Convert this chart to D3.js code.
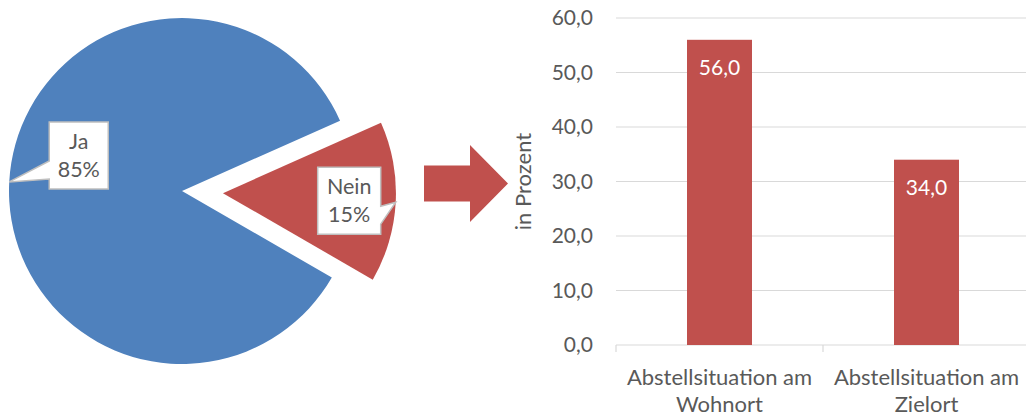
<!DOCTYPE html>
<html>
<head>
<meta charset="utf-8">
<script src="https://cdn.jsdelivr.net/npm/d3@7"></script>
<style>
  html, body { margin: 0; padding: 0; background: #fff; }
  svg { display: block; font-family: Lato, "Open Sans", sans-serif; }
</style>
</head>
<body>
<svg id="chart" width="1026" height="418"></svg>
<script>
// Pie: share answering yes / no
const pieLabels = ["Ja", "Nein"];
const pieValues = [85, 15];
const pieColors = ["#4F81BD", "#C0504D"];

// Bars: percentages by parking situation
const barCategories = [["Abstellsituation am", "Wohnort"], ["Abstellsituation am", "Zielort"]];
const barValues = [56.0, 34.0];
const yTicks = [0, 10, 20, 30, 40, 50, 60];
const yTitle = "in Prozent";

const textColor = "#595959";
const gridColor = "#D9D9D9";
const locale = d3.formatLocale({ decimal: ",", thousands: ".", grouping: [3], currency: ["", " €"] });
const fmt1 = locale.format(".1f");

const svg = d3.select("#chart");

// ---------- Pie with exploded "Nein" slice ----------
const deg = Math.PI / 180;
const pieCx = 182, pieCy = 191, radius = 173, explode = 41;
const pie = d3.pie().sort(null).startAngle(120 * deg).endAngle(480 * deg);
const arcs = pie(pieValues);
const arc = d3.arc().innerRadius(0).outerRadius(radius);

const pieG = svg.append("g").attr("transform", `translate(${pieCx},${pieCy})`);
const offset = (d, i) => {
  if (i !== 1) return [0, 0];
  const m = (d.startAngle + d.endAngle) / 2;
  return [Math.sin(m) * explode, -Math.cos(m) * explode];
};
pieG.selectAll("path.slice")
  .data(arcs)
  .join("path")
  .attr("class", "slice")
  .attr("d", arc)
  .attr("fill", (d, i) => pieColors[i])
  .attr("transform", (d, i) => `translate(${offset(d, i)})`);

// Callout labels: pointer tip sits on the outer edge at the slice's mid angle
const boxH = 67;
const callouts = [
  { dx: 40, dy: -60, side: "left", w: 59 },   // box placed right of the tip
  { dx: -78, dy: -35, side: "right", w: 63 }  // box placed left of the tip
];
arcs.forEach((d, i) => {
  const m = (d.startAngle + d.endAngle) / 2;
  const [ox, oy] = offset(d, i);
  const tx = ox + Math.sin(m) * radius;
  const ty = oy - Math.cos(m) * radius;
  const c = callouts[i];
  const x0 = tx + c.dx, y0 = ty + c.dy, x1 = x0 + c.w, y1 = y0 + boxH;
  const b1 = y0 + 39, b2 = y0 + 57;
  let p;
  if (c.side === "left") {
    p = `M${x0},${y0}H${x1}V${y1}H${x0}V${b2}L${tx},${ty}L${x0},${b1}Z`;
  } else {
    p = `M${x0},${y0}H${x1}V${b1}L${tx},${ty}L${x1},${b2}V${y1}H${x0}Z`;
  }
  pieG.append("path")
    .attr("d", p)
    .attr("fill", "#fff")
    .attr("stroke", "#BFBFBF")
    .attr("stroke-width", 1.5);
  const t = pieG.append("text")
    .attr("text-anchor", "middle")
    .attr("fill", textColor)
    .attr("font-size", 21.5);
  t.append("tspan").attr("x", (x0 + x1) / 2).attr("y", y0 + 27).text(pieLabels[i]);
  t.append("tspan").attr("x", (x0 + x1) / 2).attr("y", y0 + 55).text(pieValues[i] + "%");
});

// ---------- Block arrow ----------
const ax0 = 424, axNeck = 470, axTip = 508, ayMid = 183.5;
const bodyHalf = 18, headHalf = 38.5;
svg.append("path")
  .attr("d", `M${ax0},${ayMid - bodyHalf}H${axNeck}V${ayMid - headHalf}L${axTip},${ayMid}L${axNeck},${ayMid + headHalf}V${ayMid + bodyHalf}H${ax0}Z`)
  .attr("fill", "#C0504D");

// ---------- Bar chart ----------
const plotLeft = 616, plotRight = 1030, plotTop = 18, plotBottom = 345;
const y = d3.scaleLinear().domain([0, 60]).range([plotBottom, plotTop]);
const x = d3.scaleBand().domain(d3.range(barCategories.length)).range([plotLeft, plotRight]).padding(0);
const barW = x.bandwidth() * 0.314;

const barG = svg.append("g");

// gridlines
barG.selectAll("line.grid")
  .data(yTicks.filter(v => v > 0))
  .join("line")
  .attr("class", "grid")
  .attr("x1", plotLeft).attr("x2", plotRight)
  .attr("y1", d => y(d)).attr("y2", d => y(d))
  .attr("stroke", gridColor).attr("stroke-width", 1);

// baseline axis with category separators
barG.append("line")
  .attr("x1", plotLeft).attr("x2", plotRight)
  .attr("y1", y(0)).attr("y2", y(0))
  .attr("stroke", gridColor).attr("stroke-width", 1.2);
barG.selectAll("line.tick")
  .data(d3.range(barCategories.length + 1))
  .join("line")
  .attr("class", "tick")
  .attr("x1", i => plotLeft + i * x.step()).attr("x2", i => plotLeft + i * x.step())
  .attr("y1", y(0)).attr("y2", y(0) + 7)
  .attr("stroke", gridColor).attr("stroke-width", 1.2);

// y tick labels
barG.selectAll("text.ytick")
  .data(yTicks)
  .join("text")
  .attr("class", "ytick")
  .attr("x", 593)
  .attr("y", d => y(d))
  .attr("dy", "0.35em")
  .attr("text-anchor", "end")
  .attr("fill", textColor)
  .attr("font-size", 21)
  .text(d => fmt1(d));

// y axis title
barG.append("text")
  .attr("transform", `translate(531,${(plotTop + plotBottom) / 2}) rotate(-90)`)
  .attr("text-anchor", "middle")
  .attr("fill", textColor)
  .attr("font-size", 22)
  .text(yTitle);

// bars
barG.selectAll("rect.bar")
  .data(barValues)
  .join("rect")
  .attr("class", "bar")
  .attr("x", (d, i) => x(i) + (x.bandwidth() - barW) / 2)
  .attr("width", barW)
  .attr("y", d => y(d))
  .attr("height", d => y(0) - y(d))
  .attr("fill", "#C0504D");

// value labels
barG.selectAll("text.val")
  .data(barValues)
  .join("text")
  .attr("class", "val")
  .attr("x", (d, i) => x(i) + x.bandwidth() / 2)
  .attr("y", d => y(d) + 35)
  .attr("text-anchor", "middle")
  .attr("fill", "#fff")
  .attr("font-size", 21)
  .text(d => fmt1(d));

// category labels
barCategories.forEach((lines, i) => {
  const t = barG.append("text")
    .attr("text-anchor", "middle")
    .attr("fill", textColor)
    .attr("font-size", 22);
  lines.forEach((ln, k) => {
    t.append("tspan")
      .attr("x", x(i) + x.bandwidth() / 2)
      .attr("y", 385 + k * 27)
      .text(ln);
  });
});
</script>
</body>
</html>
